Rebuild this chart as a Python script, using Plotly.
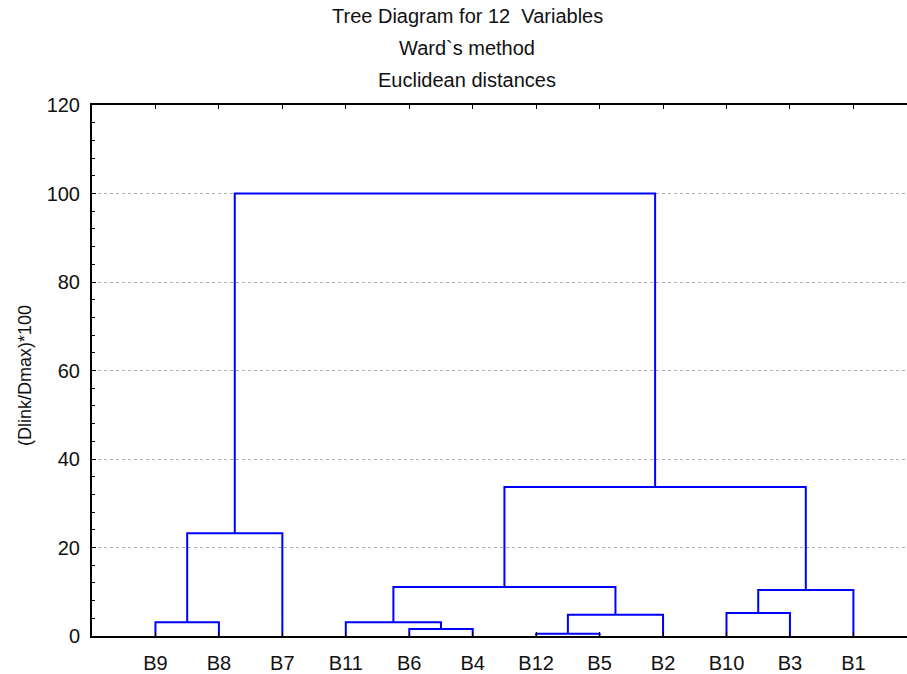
import plotly.graph_objects as go

# Leaf order along the horizontal axis
leaves = ["B9", "B8", "B7", "B11", "B6", "B4", "B12", "B5", "B2", "B10", "B3", "B1"]

# Agglomeration steps: cluster name, the two joined members, linkage distance
link_names = ["C1", "C2", "C3", "C4", "C5", "C6", "C7", "C8", "C9", "C10", "C11"]
link_left = ["B9", "C1", "B6", "B11", "B12", "C5", "C4", "B10", "C8", "C7", "C2"]
link_right = ["B8", "B7", "B4", "C3", "B5", "B2", "C6", "B3", "B1", "C9", "C10"]
link_height = [3.1, 23.2, 1.6, 3.1, 0.5, 4.8, 11.1, 5.2, 10.4, 33.7, 100.0]

y_ticks = [0, 20, 40, 60, 80, 100, 120]

# Position of each node: leaves at 1..n, clusters at the midpoint of their children
pos_x = {name: i + 1 for i, name in enumerate(leaves)}
pos_y = {name: 0.0 for name in leaves}
xs, ys = [], []
for name, a, b, h in zip(link_names, link_left, link_right, link_height):
    xa, xb = pos_x[a], pos_x[b]
    xs += [xa, xa, xb, xb, None]
    ys += [pos_y[a], h, h, pos_y[b], None]
    pos_x[name] = (xa + xb) / 2
    pos_y[name] = h

fig = go.Figure()
fig.add_trace(go.Scatter(
    x=xs, y=ys, mode="lines",
    line=dict(color="#0000ff", width=2),
    hoverinfo="skip", showlegend=False, cliponaxis=False,
))

W, H = 907, 674
ml, mr, mt, mb = 92, 0, 105, 34
pw, ph = W - ml - mr, H - mt - mb
unit = 63.45  # pixels per leaf step

font = "Liberation Sans, Arial, sans-serif"

fig.update_layout(
    width=W, height=H,
    margin=dict(l=ml, r=mr, t=mt, b=mb, pad=0),
    paper_bgcolor="white", plot_bgcolor="white",
    font=dict(family=font, color="#111111", size=20),
    xaxis=dict(
        range=[0, pw / unit],
        tickvals=[pos_x[n] for n in leaves], ticktext=leaves,
        ticks="inside", ticklen=4, tickwidth=1, tickcolor="black",
        showline=True, linewidth=2, linecolor="black", mirror="ticks",
        showgrid=False, zeroline=False, ticklabelstandoff=8,
        tickfont=dict(size=20),
    ),
    yaxis=dict(
        range=[0, 120], tickvals=y_ticks,
        ticks="inside", ticklen=4, tickwidth=1, tickcolor="black",
        minor=dict(dtick=4, ticks="inside", ticklen=3, tickcolor="black", showgrid=False),
        showline=True, linewidth=2, linecolor="black",
        showgrid=True, gridcolor="#b0b0b0", griddash="dot", gridwidth=1,
        zeroline=False, ticklabelstandoff=6,
        tickfont=dict(size=20),
    ),
)

def px_x(p):
    return (p - ml) / pw

def px_y(p):
    return (H - mb - p) / ph

titles = [("Tree Diagram for 12  Variables", 15.5),
          ("Ward`s method", 47.5),
          ("Euclidean distances", 79.5)]
for text, yc in titles:
    fig.add_annotation(
        text=text, xref="paper", yref="paper",
        x=px_x(467), y=px_y(yc), xanchor="center", yanchor="middle",
        showarrow=False, font=dict(size=20, family=font, color="#111111"),
    )

fig.add_annotation(
    text="(Dlink/Dmax)*100", xref="paper", yref="paper",
    x=px_x(25), y=px_y(378), xanchor="center", yanchor="middle",
    textangle=-90, showarrow=False,
    font=dict(size=18, family=font, color="#111111"),
)

fig.write_html("out.html")
